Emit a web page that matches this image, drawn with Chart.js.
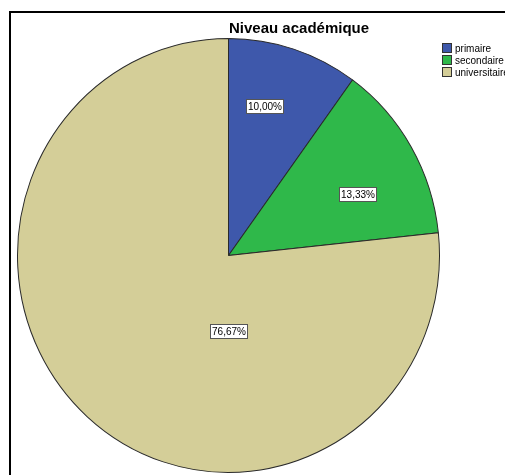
<!DOCTYPE html>
<html lang="fr">
<head>
<meta charset="utf-8">
<title>Niveau académique</title>
<script src="https://cdn.jsdelivr.net/npm/chart.js@4/dist/chart.umd.min.js"></script>
<style>
  html, body { margin: 0; padding: 0; background: #fff; overflow: hidden; }
  body { width: 505px; height: 475px; position: relative; font-family: "Liberation Sans", Arial, sans-serif; }
  .frame { position: absolute; left: 9px; top: 11px; width: 600px; height: 600px; border: 2px solid #000; }
  .wrap { position: absolute; left: 0; top: 0; width: 505px; height: 475px; }
  .title { position: absolute; left: 229px; top: 19px; font-size: 15px; font-weight: bold; color: #000; white-space: nowrap; }
  .legend { position: absolute; left: 442px; top: 42px; font-size: 10px; color: #000; white-space: nowrap; }
  .legend-item { display: flex; align-items: center; height: 12px; }
  .legend-box { width: 8px; height: 8px; border: 1px solid #333; margin-right: 3px; }
</style>
</head>
<body>
<div class="frame"></div>
<div class="wrap"><canvas id="pie" width="505" height="475"></canvas></div>
<div class="title">Niveau académique</div>
<div class="legend" id="legend"></div>

<script>
  // data (counts out of 30)
  const categories = ['primaire', 'secondaire', 'universitaire'];
  const counts = [3, 4, 23];
  const colors = ['#3e58ab', '#2fb84a', '#d4ce98'];

  // where each percent label sits: angle from 12 o'clock (deg) and fraction of radius
  const labelAngles = [14, 65, 180];
  const labelRadii = [0.71, 0.673, 0.35];

  // the original pie is a touch taller than wide
  const stretchX = 211 / 214;
  const stretchY = 217 / 214;

  const total = counts.reduce((a, b) => a + b, 0);
  const pctText = (v) => (v / total * 100).toFixed(2).replace('.', ',') + '%';

  document.getElementById('legend').innerHTML = categories.map((c, i) =>
    `<div class="legend-item"><span class="legend-box" style="background:${colors[i]}"></span>${c}</div>`
  ).join('');

  const ellipse = {
    id: 'ellipse',
    beforeDatasetsDraw(chart) {
      const arc = chart.getDatasetMeta(0).data[0];
      const ctx = chart.ctx;
      ctx.save();
      ctx.translate(arc.x, arc.y);
      ctx.scale(stretchX, stretchY);
      ctx.translate(-arc.x, -arc.y);
    },
    afterDatasetsDraw(chart) {
      chart.ctx.restore();
    }
  };

  const pctLabels = {
    id: 'pctLabels',
    afterDraw(chart) {
      const ctx = chart.ctx;
      const meta = chart.getDatasetMeta(0);
      ctx.save();
      ctx.font = '10px "Liberation Sans", Arial, sans-serif';
      ctx.textAlign = 'center';
      ctx.textBaseline = 'middle';
      meta.data.forEach((arc, i) => {
        const a = labelAngles[i] * Math.PI / 180;
        const r = arc.outerRadius * labelRadii[i];
        const x = arc.x + Math.sin(a) * r * stretchX;
        const y = arc.y - Math.cos(a) * r * stretchY;
        const txt = pctText(counts[i]);
        const w = Math.round(ctx.measureText(txt).width) + 3;
        const h = 14;
        const bx = Math.round(x - w / 2) + 0.5;
        const by = Math.round(y - h / 2) + 0.5;
        ctx.fillStyle = '#fff';
        ctx.fillRect(bx, by, w, h);
        ctx.strokeStyle = '#555';
        ctx.lineWidth = 1;
        ctx.strokeRect(bx, by, w, h);
        ctx.fillStyle = '#000';
        ctx.fillText(txt, bx + w / 2, by + h / 2 + 0.5);
      });
      ctx.restore();
    }
  };

  new Chart(document.getElementById('pie'), {
    type: 'pie',
    data: {
      labels: categories,
      datasets: [{
        data: counts,
        backgroundColor: colors,
        borderColor: '#2a2a2a',
        borderWidth: 1,
      }],
    },
    options: {
      responsive: false,
      animation: false,
      events: [],
      layout: { padding: { left: 14, right: 62, top: 41, bottom: 5 } },
      plugins: {
        legend: { display: false },
        title: { display: false },
        tooltip: { enabled: false },
      },
    },
    plugins: [ellipse, pctLabels],
  });
</script>
</body>
</html>
